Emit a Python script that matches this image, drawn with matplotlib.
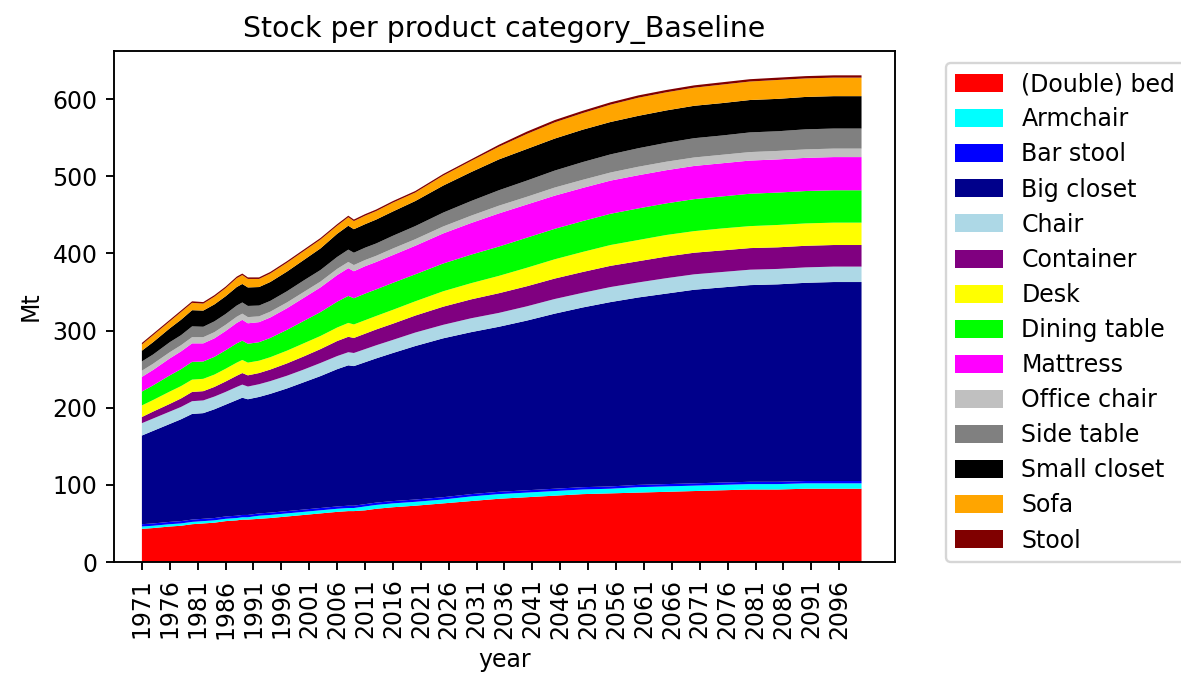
import matplotlib
matplotlib.use("Agg")
import matplotlib.pyplot as plt

years = [1971, 1973, 1976, 1978, 1980, 1982, 1984, 1986, 1988, 1989, 1990, 1992, 1994,
         1997, 2000, 2003, 2006, 2008, 2009, 2011, 2013, 2016, 2020, 2025, 2030, 2035,
         2040, 2045, 2050, 2055, 2060, 2065, 2070, 2075, 2080, 2085, 2090, 2095, 2100]

categories = ["(Double) bed", "Armchair", "Bar stool", "Big closet", "Chair", "Container",
              "Desk", "Dining table", "Mattress", "Office chair", "Side table",
              "Small closet", "Sofa", "Stool"]

double_bed = [43, 44, 46, 47, 49, 50, 51, 53, 54, 55, 55, 56, 57, 59, 61, 63, 65, 66, 66, 67,
              69, 71, 73, 76, 79, 82, 84, 86, 88, 89, 90, 91, 92, 93, 94, 94, 95, 95, 95]
armchair = [3, 3, 3, 3, 3, 3, 3, 3, 3, 3, 3, 4, 4, 4, 4, 4, 4, 4, 4, 5, 5, 5, 5, 5, 6, 6, 6,
            6, 6, 6, 7, 7, 7, 7, 7, 7, 7, 7, 7]
bar_stool = [3, 3, 3, 3, 3, 3, 3, 3, 3, 3, 3, 3, 3, 3, 3, 3, 3, 3, 3, 3, 3, 3, 3, 3, 3, 3, 3,
             3, 3, 3, 3, 3, 3, 3, 3, 3, 3, 3, 3]
big_closet = [115, 120, 127, 132, 137, 137, 141, 145, 150, 152, 150, 151, 154, 159, 165, 171,
              178, 182, 181, 184, 187, 192, 199, 206, 210, 214, 220, 227, 233, 239, 243, 247,
              251, 253, 255, 256, 257, 258, 258]
chair = [16, 16, 16, 16, 16.5, 16.5, 16.5, 16.5, 17, 17, 16.5, 16.5, 16.5, 16.5, 16.5, 17, 17,
         17, 17, 17, 17, 17, 17.5, 17.5, 18, 18, 18.5, 19, 19, 19.5, 19.5, 20, 20, 20, 20, 20,
         20, 20, 20]
container = [8, 9, 10, 11, 12, 12, 12.5, 13.5, 14.5, 15, 14.5, 14.5, 15, 16, 17, 18, 19.5, 20,
             19.5, 20, 20.5, 21, 22, 23.5, 24.5, 25.5, 26, 26.5, 27, 27.5, 27.5, 28, 28, 28, 28,
             28, 28, 28, 28]
desk = [15, 15, 16, 16, 16, 16, 16, 16.5, 17, 17, 16.5, 16, 16, 16.5, 17, 17, 17.5, 18, 17.5,
        17.5, 17.5, 18, 18.5, 20, 21, 22.5, 24, 25, 26, 27, 27.5, 28, 28, 28.5, 28.5, 29, 29,
        29, 29]
dining_table = [18, 19, 21, 22, 23, 22.5, 23, 24, 25, 25, 24.5, 24, 25, 27, 29, 31, 33.5, 35, 34,
                34.5, 34.5, 35, 35, 36, 37, 38, 39, 39.5, 40, 40.5, 41, 41, 41.5, 41.5, 42, 42,
                42, 42, 42]
mattress = [19, 20, 22, 23, 24, 23.5, 24, 25, 26.5, 27, 26.5, 26, 26.5, 28, 30, 32, 34.5, 36,
            35, 35.5, 35.5, 36, 37, 39, 41, 43, 43, 43, 43, 43, 43, 43, 43, 43, 43, 43, 43, 43, 43]
office_chair = [8, 8, 8, 8, 8, 8, 8, 8, 8, 8, 8, 7.5, 7.5, 7.5, 7.5, 7.5, 8, 8, 8, 8, 8, 8.5,
                8.5, 9, 9.5, 10, 10, 10.5, 10.5, 10.5, 11, 11, 11, 11, 11, 11, 11, 11, 11]
side_table = [12, 12, 13, 13, 14, 13.5, 14, 14, 14.5, 14.5, 14.5, 14, 14, 14.5, 15, 15, 15.5,
              16, 16, 16, 16, 16.5, 17, 18, 19, 20, 21, 22, 23, 23.5, 24, 24.5, 25, 25, 25.5,
              25.5, 26, 26, 26]
small_closet = [14, 16, 18, 20, 21, 21, 22, 23, 24, 24, 24, 24, 24.5, 25.5, 26.5, 28, 30, 31,
                30.5, 30.5, 31, 31.5, 32.5, 35, 37.5, 40, 41, 41.5, 42, 42, 42, 42, 42, 42, 42,
                42, 42, 42, 42]
sofa = [8, 9, 9, 10, 9.5, 9, 10, 10.5, 11.5, 11.5, 11, 10.5, 11, 11.5, 11.5, 11.5, 10.5, 11,
        10.5, 11, 11, 11.5, 11, 13, 14.5, 16.5, 19.5, 21, 21.5, 22.5, 23.5, 23.5, 23.5, 24, 24,
        24.5, 24, 24, 24]
stool = [2, 2, 2, 2, 2, 2, 2, 2, 2, 2, 2, 2, 2, 2, 2, 2, 2, 2, 2, 2, 2, 2, 2, 2, 2, 2.5, 3, 3,
         3, 3, 3, 3, 3, 3, 3, 3, 3, 3, 3]

colors = ["red", "cyan", "blue", "darkblue", "lightblue", "purple", "yellow", "lime",
          "magenta", "silver", "gray", "black", "orange", "maroon"]

series = [double_bed, armchair, bar_stool, big_closet, chair, container, desk, dining_table,
          mattress, office_chair, side_table, small_closet, sofa, stool]

W, H, DPI = 1181, 673, 170
fig = plt.figure(figsize=(W / DPI, H / DPI), dpi=DPI)
ax = fig.add_axes([114 / W, 1 - 562 / H, (895 - 114) / W, (562 - 51) / H])

ax.stackplot(years, *series, labels=categories, colors=colors, linewidth=0)

ax.set_xlim(1966, 2106)
ax.set_xticks(list(range(1971, 2100, 5)))
ax.tick_params(axis="x", labelrotation=90)
ax.set_xlabel("year")
ax.set_ylabel("Mt")
ax.set_title("Stock per product category_Baseline")

ax.legend(loc="upper left", bbox_to_anchor=(1.05, 1.0), handleheight=0.8,
          labelspacing=0.47)

fig.savefig("out.png", dpi=DPI)
